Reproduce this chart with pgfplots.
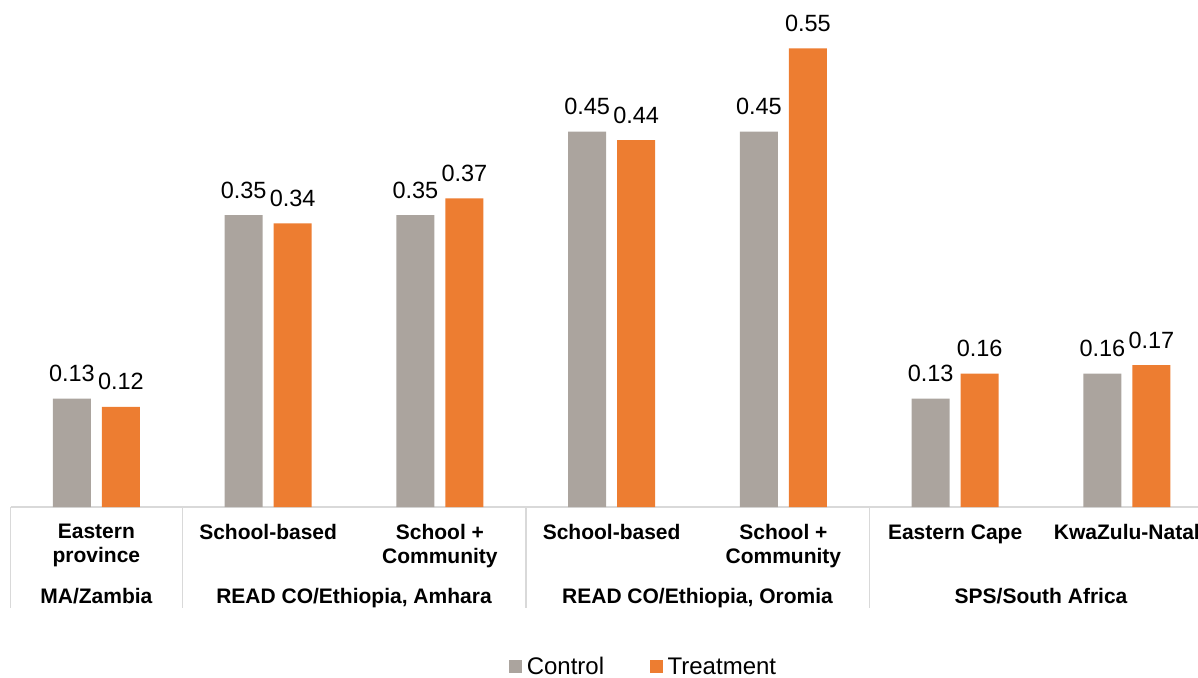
\documentclass[border=0pt]{standalone}
\usepackage{pgfplots}
\pgfplotsset{compat=1.18}
\usepackage{fontspec}
\setmainfont{Liberation Sans}
\definecolor{ctrl}{HTML}{ABA49E}
\definecolor{treat}{HTML}{ED7D31}
\definecolor{sepc}{HTML}{D9D9D9}
\pgfplotsset{sqlegend/.style={legend image code/.code={\fill[##1] (0pt,-6pt) rectangle (12.5pt,6.5pt);}}}
\begin{document}
\begin{tikzpicture}
\begin{axis}[
  at={(0pt,0pt)}, anchor=south west,
  scale only axis, width=1187.5pt, height=500.4pt,
  xmin=-0.5, xmax=6.414, ymin=0, ymax=0.6,
  axis x line*=bottom, axis y line=none,
  x axis line style={draw=sepc, line width=1.5pt, -},
  ytick=\empty,
  xtick={0,1,2,3,4,5,6},
  xticklabels={{Eastern\\province},{School-based},{School +\\Community},{School-based},{School +\\Community},{Eastern Cape},{KwaZulu-Natal}},
  xticklabel style={font=\fontsize{21}{24}\selectfont\bfseries, align=center, anchor=north, yshift=-14pt},
  major tick length=0pt,
  ybar=11pt, bar width=38pt,
  clip=false,
  nodes near coords={\pgfmathprintnumber[fixed,precision=2,zerofill,assume math mode=true]{\pgfplotspointmeta}},
  every node near coord/.append style={font=\fontsize{23.5}{27}\selectfont, anchor=south, inner sep=0pt, yshift=16.5pt, text=black},
  legend columns=2,
  legend style={at={(0.5332,-0.3197)}, anchor=center, draw=none, fill=none, inner sep=0pt,
    font=\fontsize{24}{28}\selectfont, nodes={inner ysep=0.5pt},
    /tikz/every odd column/.append style={column sep=3pt},
    /tikz/every even column/.append style={column sep=44pt}},
]
\addplot[fill=ctrl, draw=none, sqlegend] coordinates {(0,0.13) (1,0.35) (2,0.35) (3,0.45) (4,0.45) (5,0.13) (6,0.16)};
\addplot[fill=treat, draw=none, sqlegend] coordinates {(0,0.12) (1,0.34) (2,0.37) (3,0.44) (4,0.55) (5,0.16) (6,0.17)};
\legend{Control, Treatment}
\draw[sepc, line width=1.5pt] (axis cs:-0.5,0) -- ++(0pt,-101pt);
\draw[sepc, line width=1.5pt] (axis cs:0.5,0) -- ++(0pt,-101pt);
\draw[sepc, line width=1.5pt] (axis cs:2.5,0) -- ++(0pt,-101pt);
\draw[sepc, line width=1.5pt] (axis cs:4.5,0) -- ++(0pt,-101pt);
\node[font=\fontsize{21}{24}\selectfont\bfseries, anchor=base, yshift=-96pt] at (axis cs:0,0) {MA/Zambia};
\node[font=\fontsize{21}{24}\selectfont\bfseries, anchor=base, yshift=-96pt] at (axis cs:1.5,0) {READ CO/Ethiopia, Amhara};
\node[font=\fontsize{21}{24}\selectfont\bfseries, anchor=base, yshift=-96pt] at (axis cs:3.5,0) {READ CO/Ethiopia, Oromia};
\node[font=\fontsize{21}{24}\selectfont\bfseries, anchor=base, yshift=-96pt] at (axis cs:5.5,0) {SPS/South Africa};
\end{axis}
\pgfresetboundingbox
\path[use as bounding box] (-10.5pt,-170pt) rectangle (1187.5pt,507pt);
\end{tikzpicture}
\end{document}
